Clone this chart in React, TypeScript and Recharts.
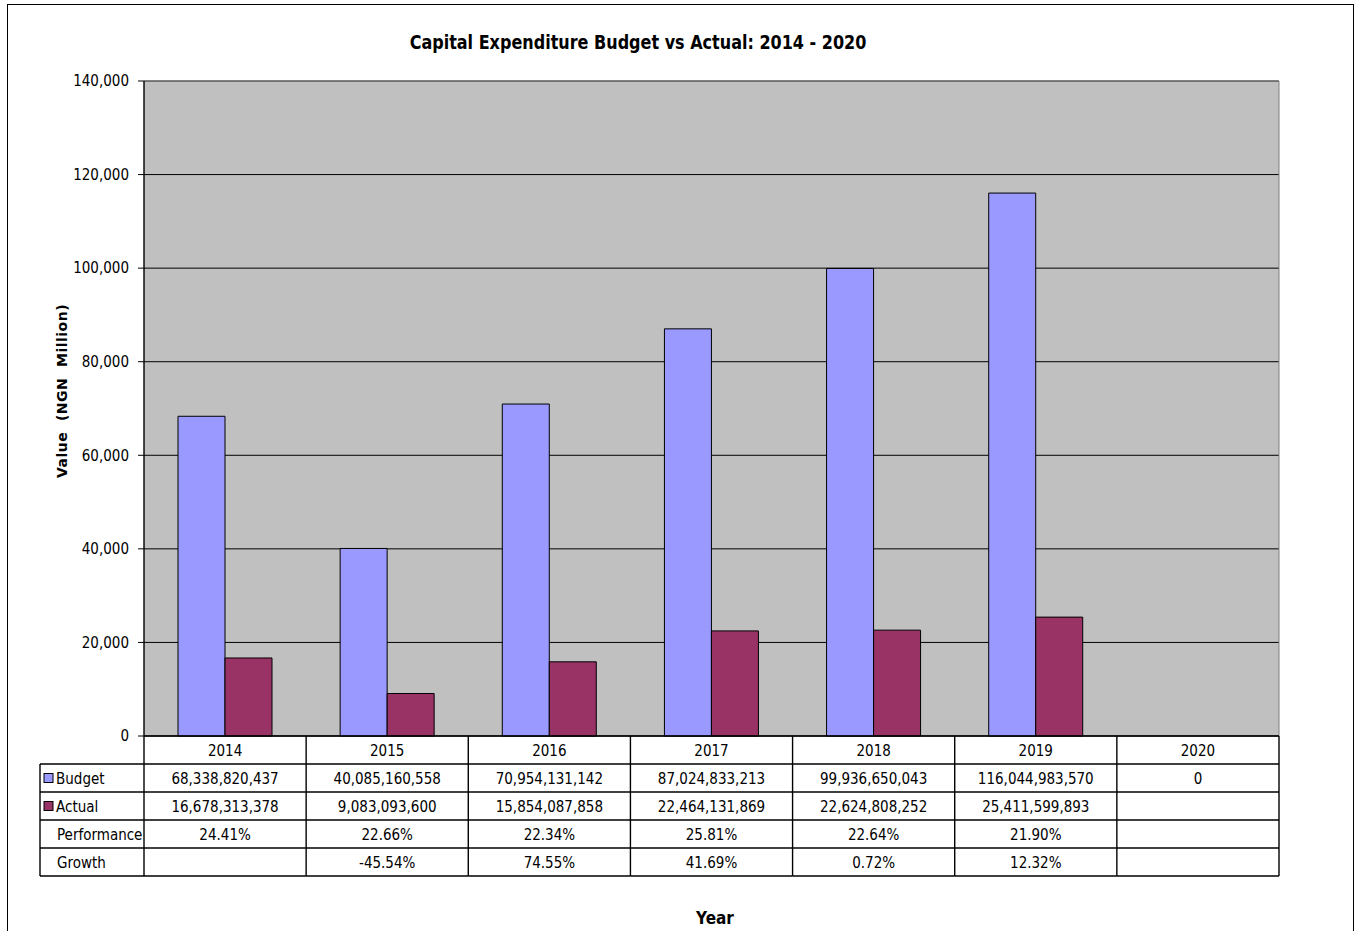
import React from 'react';
import { BarChart, Bar, XAxis, YAxis, CartesianGrid } from 'recharts';

const years = ['2014', '2015', '2016', '2017', '2018', '2019', '2020'];
const budget = [68338.82, 40085.16, 70954.13, 87024.83, 99936.65, 116044.98, 0];
const actual: (number | null)[] = [16678.31, 9083.09, 15854.09, 22464.13, 22624.81, 25411.6, null];
const budgetLabels = ['68,338,820,437', '40,085,160,558', '70,954,131,142', '87,024,833,213', '99,936,650,043', '116,044,983,570', '0'];
const actualLabels = ['16,678,313,378', '9,083,093,600', '15,854,087,858', '22,464,131,869', '22,624,808,252', '25,411,599,893', ''];
const performanceLabels = ['24.41%', '22.66%', '22.34%', '25.81%', '22.64%', '21.90%', ''];
const growthLabels = ['', '-45.54%', '74.55%', '41.69%', '0.72%', '12.32%', ''];
const rowNames = ['Budget', 'Actual', 'Performance', 'Growth'];
const yTicks = [0, 20000, 40000, 60000, 80000, 100000, 120000, 140000];

const BUDGET_COLOR = '#9999FF';
const ACTUAL_COLOR = '#993366';
const FONT = '"DejaVu Sans Condensed", "DejaVu Sans", sans-serif';

const data = years.map((y, i) => ({ year: y, budget: budget[i], actual: actual[i] }));

const W = 1362;
const H = 931;
const MARGIN = { top: 81, right: 83, bottom: 0, left: 0 };
const Y_AXIS_W = 144;
const X_AXIS_H = 195;
const ROW = 28;
const LEGEND_COL_W = 104;
const LINE = '#000';
const LW = 1.4;
const FS = 15;

function TableTick(props: any) {
  const { x, y, index, payload } = props;
  const plotW = W - MARGIN.left - MARGIN.right - Y_AXIS_W;
  const half = payload && payload.offset ? payload.offset : plotW / years.length / 2;
  const l = x - half;
  const r = x + half;
  const rows = [budgetLabels, actualLabels, performanceLabels, growthLabels];
  const textStyle = { fontFamily: FONT, fontSize: FS, fill: '#000' } as any;
  const L0 = l - LEGEND_COL_W;
  return (
    <g>
      {index === 0 && <line x1={l} y1={y} x2={l} y2={y + 5 * ROW} stroke={LINE} strokeWidth={LW} />}
      <line x1={r} y1={y} x2={r} y2={y + 5 * ROW} stroke={LINE} strokeWidth={LW} />
      {[1, 2, 3, 4, 5].map((k) => (
        <line key={k} x1={l} x2={r} y1={y + k * ROW} y2={y + k * ROW} stroke={LINE} strokeWidth={LW} />
      ))}
      <text x={x} y={y + ROW / 2 + 6} textAnchor="middle" style={textStyle}>{years[index]}</text>
      {rows.map((arr, k) => (
        <text key={k} x={x} y={y + (k + 1) * ROW + ROW / 2 + 6} textAnchor="middle" style={textStyle}>
          {arr[index]}
        </text>
      ))}
      {index === 0 && (
        <g>
          <line x1={L0} y1={y + ROW} x2={L0} y2={y + 5 * ROW} stroke={LINE} strokeWidth={LW} />
          {[1, 2, 3, 4, 5].map((k) => (
            <line key={k} x1={L0} x2={l} y1={y + k * ROW} y2={y + k * ROW} stroke={LINE} strokeWidth={LW} />
          ))}
          <rect x={L0 + 4} y={y + ROW + ROW / 2 - 4.5} width={9} height={9} fill={BUDGET_COLOR} stroke="#000" strokeWidth={1} />
          <rect x={L0 + 4} y={y + 2 * ROW + ROW / 2 - 4.5} width={9} height={9} fill={ACTUAL_COLOR} stroke="#000" strokeWidth={1} />
          {rowNames.map((n, k) => (
            <text key={n} x={L0 + (k < 2 ? 16 : 17)} y={y + (k + 1) * ROW + ROW / 2 + 6} textAnchor="start" style={textStyle}>
              {n}
            </text>
          ))}
        </g>
      )}
    </g>
  );
}

export default function App() {
  return (
    <div style={{ position: 'absolute', left: 0, top: 0, width: W, height: H, overflow: 'hidden', background: '#fff' }}>
      <div
        style={{
          position: 'absolute', left: 7, top: 4, width: 1347, height: 1000,
          border: '1.5px solid #000', boxSizing: 'border-box',
        }}
      />
      <div style={{ position: 'absolute', left: 0, top: 0 }}>
        <BarChart width={W} height={H} data={data} margin={MARGIN} barCategoryGap={34} barGap={0}>
          <CartesianGrid vertical={false} stroke="#000" fill="#C0C0C0" fillOpacity={1} />
          <CartesianGrid
            stroke="#808080"
            horizontalCoordinatesGenerator={(p: any) => [p && p.offset ? p.offset.top : MARGIN.top]}
            verticalCoordinatesGenerator={(p: any) => [p && p.offset ? p.offset.left + p.offset.width : W - MARGIN.right]}
          />
          <XAxis
            dataKey="year"
            height={X_AXIS_H}
            interval={0}
            tickLine={false}
            tickSize={0}
            tickMargin={0}
            axisLine={{ stroke: '#000', strokeWidth: 1.4 }}
            tick={(p: any) => <TableTick {...p} />}
          />
          <YAxis
            width={Y_AXIS_W}
            domain={[0, 140000]}
            ticks={yTicks}
            interval={0}
            tickSize={6}
            tickMargin={9}
            axisLine={{ stroke: '#000', strokeWidth: 1.4 }}
            tickLine={{ stroke: '#000' }}
            tickFormatter={(v: number) => v.toLocaleString('en-US')}
            tick={{ fill: '#000', fontSize: FS, fontFamily: FONT }}
          />
          <Bar dataKey="budget" fill={BUDGET_COLOR} stroke="#000" strokeWidth={1} isAnimationActive={false} />
          <Bar dataKey="actual" fill={ACTUAL_COLOR} stroke="#000" strokeWidth={1} isAnimationActive={false} />
        </BarChart>
      </div>
      <div
        style={{
          position: 'absolute', left: 638, top: 42, transform: 'translate(-50%, -50%) scaleX(0.89)',
          fontFamily: FONT, fontWeight: 'bold', fontSize: 20, whiteSpace: 'nowrap', color: '#000',
        }}
      >
        Capital Expenditure Budget vs Actual: 2014 - 2020
      </div>
      <div
        style={{
          position: 'absolute', left: 62, top: 391, transform: 'translate(-50%, -50%) rotate(-90deg)',
          fontFamily: '"DejaVu Sans", Verdana, sans-serif', fontWeight: 'bold', fontSize: 14,
          letterSpacing: 0.5, whiteSpace: 'pre', color: '#000',
        }}
      >
        {'Value  (NGN  Million)'}
      </div>
      <div
        style={{
          position: 'absolute', left: 715, top: 918, transform: 'translate(-50%, -50%)',
          fontFamily: FONT, fontWeight: 'bold', fontSize: 17, whiteSpace: 'nowrap', color: '#000',
        }}
      >
        Year
      </div>
    </div>
  );
}
